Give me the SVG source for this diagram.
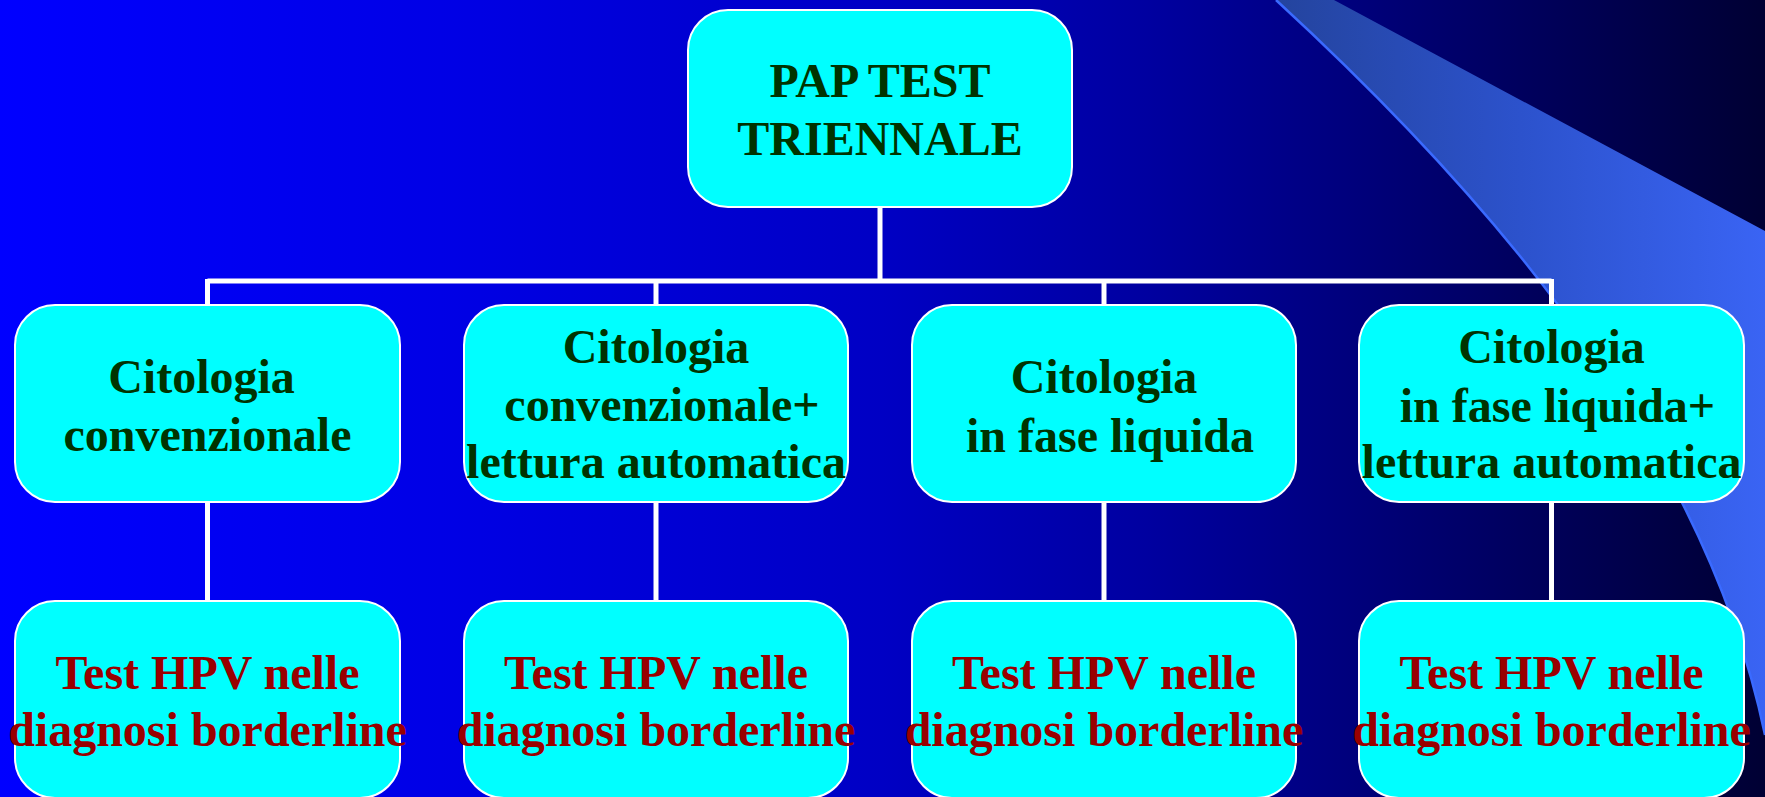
<svg xmlns="http://www.w3.org/2000/svg" width="1765" height="797" viewBox="0 0 1765 797">
  <defs>
    <linearGradient id="bg" x1="0" y1="0" x2="1" y2="0">
      <stop offset="0" stop-color="#0000ff"/>
      <stop offset="0.25" stop-color="#0000e6"/>
      <stop offset="0.5" stop-color="#0000c4"/>
      <stop offset="0.65" stop-color="#0000a0"/>
      <stop offset="0.76" stop-color="#00007e"/>
      <stop offset="0.88" stop-color="#000058"/>
      <stop offset="1" stop-color="#000033"/>
    </linearGradient>
    <linearGradient id="band" gradientUnits="userSpaceOnUse" x1="1276" y1="0" x2="1765" y2="0">
      <stop offset="0" stop-color="#24449e"/>
      <stop offset="0.5" stop-color="#2c52cc"/>
      <stop offset="1" stop-color="#3a64f4"/>
    </linearGradient>
    <style>
      .box { fill: #00ffff; stroke: #ffffff; stroke-width: 2; }
      .t { font-family: "Liberation Serif", "Times New Roman", serif; font-weight: bold; font-size: 48px; text-anchor: middle; }
      .g { fill: #003300; }
      .r { fill: #990000; }
      .conn { stroke: #ffffff; stroke-width: 5; fill: none; }
    </style>
  </defs>

  <rect x="0" y="0" width="1765" height="797" fill="url(#bg)"/>
  <path d="M1276,0 L1334,0 L1765,231 L1765,735 C1700,420 1450,160 1276,0 Z" fill="url(#band)"/>
  <path d="M1276,0 C1450,160 1700,420 1765,735" fill="none" stroke="#3a6aff" stroke-width="2.5"/>

  <g id="connectors">
    <path class="conn" d="M880,207 L880,281"/>
    <path class="conn" d="M207.5,281 L1551.5,281"/>
    <path class="conn" d="M207.5,279 L207.5,305"/>
    <path class="conn" d="M656,279 L656,305"/>
    <path class="conn" d="M1104,279 L1104,305"/>
    <path class="conn" d="M1551.5,279 L1551.5,305"/>
    <path class="conn" d="M207.5,502 L207.5,601"/>
    <path class="conn" d="M656,502 L656,601"/>
    <path class="conn" d="M1104,502 L1104,601"/>
    <path class="conn" d="M1551.5,502 L1551.5,601"/>
  </g>

  <g id="node-top">
    <rect class="box" x="688" y="10" width="384" height="197" rx="40" ry="40"/>
    <text class="t g" x="880" y="97">PAP TEST</text>
    <text class="t g" x="880" y="155">TRIENNALE</text>
  </g>

  <g id="node-c1">
    <rect class="box" x="15" y="305" width="385" height="197" rx="40" ry="40"/>
    <text class="t g" x="201.5" y="393">Citologia</text>
    <text class="t g" x="207.5" y="451">convenzionale</text>
  </g>

  <g id="node-c2">
    <rect class="box" x="464" y="305" width="384" height="197" rx="40" ry="40"/>
    <text class="t g" x="656" y="363">Citologia</text>
    <text class="t g" x="662" y="421">convenzionale+</text>
    <text class="t g" x="656" y="478">lettura automatica</text>
  </g>

  <g id="node-c3">
    <rect class="box" x="912" y="305" width="384" height="197" rx="40" ry="40"/>
    <text class="t g" x="1104" y="393">Citologia</text>
    <text class="t g" x="1110" y="452">in fase liquida</text>
  </g>

  <g id="node-c4">
    <rect class="box" x="1359" y="305" width="385" height="197" rx="40" ry="40"/>
    <text class="t g" x="1551.5" y="363">Citologia</text>
    <text class="t g" x="1557.5" y="422">in fase liquida+</text>
    <text class="t g" x="1551.5" y="478">lettura automatica</text>
  </g>

  <g id="node-h1">
    <rect class="box" x="15" y="601" width="385" height="197" rx="40" ry="40"/>
    <text class="t r" x="207.5" y="689">Test HPV nelle</text>
    <text class="t r" x="207.5" y="746">diagnosi borderline</text>
  </g>

  <g id="node-h2">
    <rect class="box" x="464" y="601" width="384" height="197" rx="40" ry="40"/>
    <text class="t r" x="656" y="689">Test HPV nelle</text>
    <text class="t r" x="656" y="746">diagnosi borderline</text>
  </g>

  <g id="node-h3">
    <rect class="box" x="912" y="601" width="384" height="197" rx="40" ry="40"/>
    <text class="t r" x="1104" y="689">Test HPV nelle</text>
    <text class="t r" x="1104" y="746">diagnosi borderline</text>
  </g>

  <g id="node-h4">
    <rect class="box" x="1359" y="601" width="385" height="197" rx="40" ry="40"/>
    <text class="t r" x="1551.5" y="689">Test HPV nelle</text>
    <text class="t r" x="1551.5" y="746">diagnosi borderline</text>
  </g>
</svg>
